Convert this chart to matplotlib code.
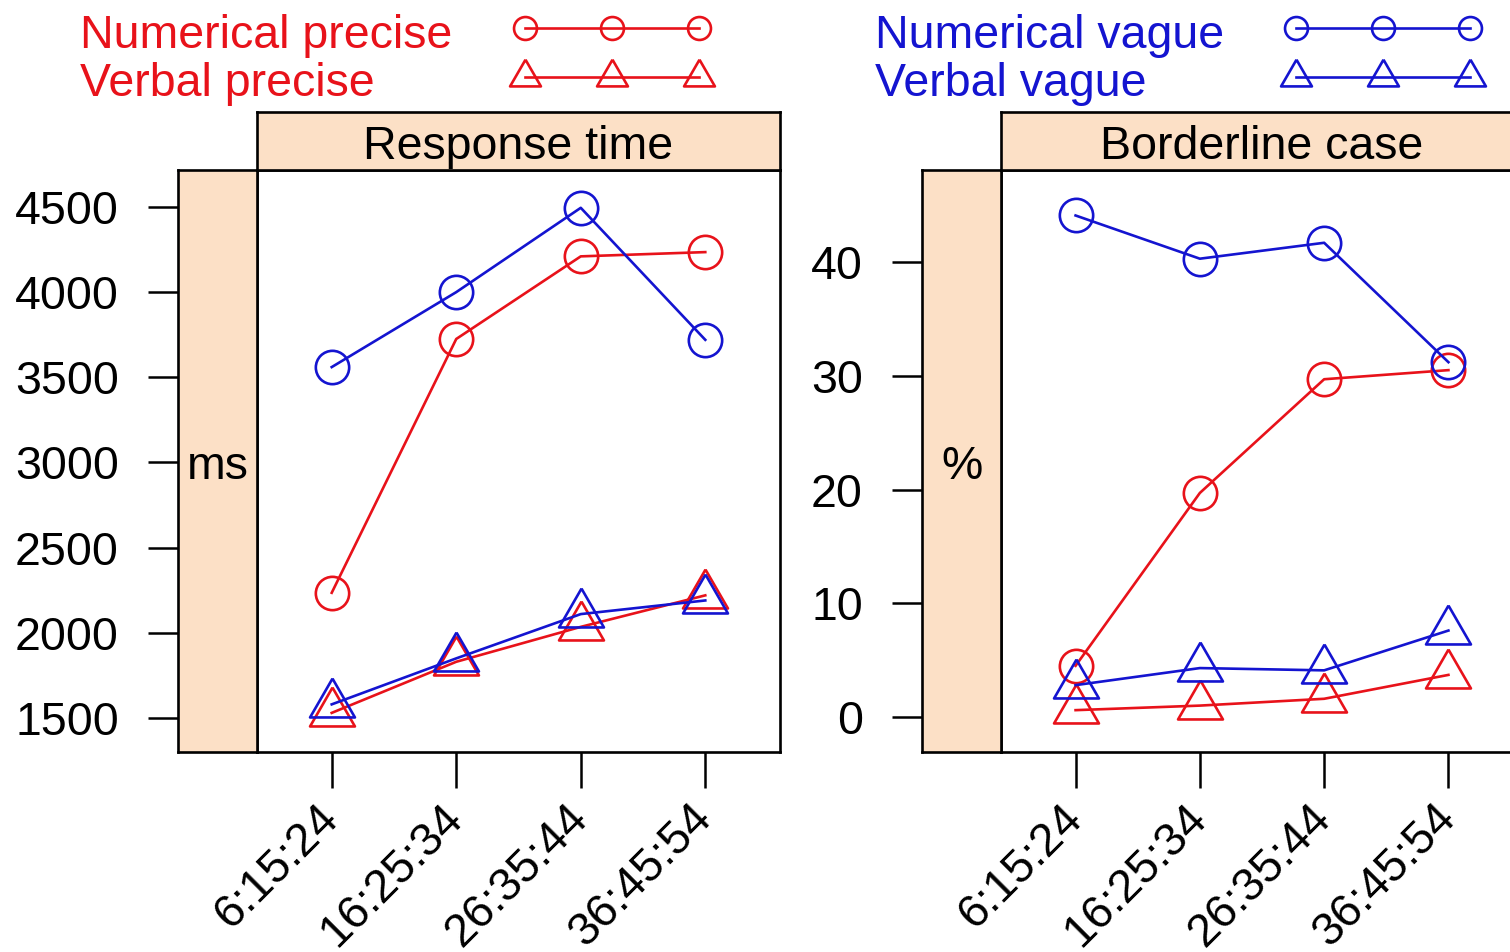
import matplotlib
matplotlib.use("Agg")
import matplotlib.pyplot as plt
import numpy as np

plt.rcParams['font.family'] = ['Liberation Sans', 'DejaVu Sans']

# ---------------- data ----------------
categories = ["6:15:24", "16:25:34", "26:35:44", "36:45:54"]
series_names = ["Numerical precise", "Verbal precise", "Numerical vague", "Verbal vague"]

rt_num_precise = [2235, 3725, 4210, 4235]
rt_verb_precise = [1530, 1830, 2035, 2220]
rt_num_vague = [3560, 4000, 4495, 3720]
rt_verb_vague = [1580, 1850, 2110, 2190]

bc_num_precise = [4.5, 19.7, 29.7, 30.5]
bc_verb_precise = [0.6, 1.0, 1.6, 3.7]
bc_num_vague = [44.1, 40.3, 41.7, 31.2]
bc_verb_vague = [2.8, 4.3, 4.1, 7.6]

panel_titles = ["Response time", "Borderline case"]
panel_ylabels = ["ms", "%"]
rt_ticks = [1500, 2000, 2500, 3000, 3500, 4000, 4500]
bc_ticks = [0, 10, 20, 30, 40]

# ---------------- style ----------------
W, H = 1510, 952
DPI = 100
RED = '#E8121A'
BLUE = '#1414D0'
STRIP = '#FCE0C6'
FS = 33.5
LW_FRAME = 1.9
LW = 1.9
MEW = 1.9

def box(x0, y0, x1, y1):
    return [x0 / W, 1 - y1 / H, (x1 - x0) / W, (y1 - y0) / H]

# R-like triangle marker (pch = 2), centred on the data point
TRI = [(0, 1.555), (1.347, -0.778), (-1.347, -0.778), (0, 1.555)]
CIRC_MS = 24.0
TRI_MS = CIRC_MS * 1.555

fig = plt.figure(figsize=(W / DPI, H / DPI), dpi=DPI)

panels = [
    dict(main=(257, 170, 780, 752), left=(178, 170, 257, 752), top=(257, 112, 780, 170),
         ylim=(1300.4, 4717), ticks=rt_ticks,
         data=[(rt_num_precise, RED, 'o'), (rt_verb_precise, RED, 't'),
               (rt_num_vague, BLUE, 'o'), (rt_verb_vague, BLUE, 't')]),
    dict(main=(1001, 170, 1523, 752), left=(922, 170, 1001, 752), top=(1001, 112, 1523, 170),
         ylim=(-3.08, 48.1), ticks=bc_ticks,
         data=[(bc_num_precise, RED, 'o'), (bc_verb_precise, RED, 't'),
               (bc_num_vague, BLUE, 'o'), (bc_verb_vague, BLUE, 't')]),
]

x = np.arange(1, len(categories) + 1)

for i, p in enumerate(panels):
    ax = fig.add_axes(box(*p['main']))
    ax.set_xlim(0.4, 4.6)
    ax.set_ylim(*p['ylim'])
    for vals, col, m in p['data']:
        mk, ms = ('o', CIRC_MS) if m == 'o' else (TRI, TRI_MS)
        ax.plot(x, vals, color=col, lw=LW, marker=mk, ms=ms,
                mfc='none', mec=col, mew=MEW, clip_on=False)
    ax.set_xticks(x)
    ax.set_xticklabels(categories, rotation=45, ha='right', va='center',
                       rotation_mode='anchor', fontsize=FS)
    ax.tick_params(axis='x', direction='out', length=26, width=1.8, pad=17)
    ax.set_yticks([])
    for s in ax.spines.values():
        s.set_linewidth(LW_FRAME)

    axl = fig.add_axes(box(*p['left']))
    axl.set_facecolor(STRIP)
    axl.set_ylim(*p['ylim'])
    axl.set_xlim(0, 1)
    axl.set_xticks([])
    axl.set_yticks(p['ticks'])
    axl.set_yticklabels([str(t) for t in p['ticks']], fontsize=FS)
    axl.tick_params(axis='y', direction='out', length=21.5, width=1.8, pad=21)
    axl.text(0.5, 0.49, panel_ylabels[i], transform=axl.transAxes, ha='center',
             va='center', fontsize=FS)
    for s in axl.spines.values():
        s.set_linewidth(LW_FRAME)

    axt = fig.add_axes(box(*p['top']))
    axt.set_facecolor(STRIP)
    axt.set_xticks([])
    axt.set_yticks([])
    axt.text(0.5, 0.40, panel_titles[i], transform=axt.transAxes,
             ha='center', va='center', fontsize=FS)
    for s in axt.spines.values():
        s.set_linewidth(LW_FRAME)

# ---------------- legend ----------------
lg = fig.add_axes([0, 0, 1, 1], zorder=-1)
lg.set_xlim(0, W)
lg.set_ylim(H, 0)
lg.axis('off')

legend_groups = [
    (80, [525, 612, 699], RED, [series_names[0], series_names[1]]),
    (875, [1296, 1383, 1470], BLUE, [series_names[2], series_names[3]]),
]
LEG_CIRC = 16.5
for tx, kx, col, names in legend_groups:
    lg.text(tx, 48, names[0], color=col, fontsize=FS, va='baseline', ha='left')
    lg.text(tx, 96, names[1], color=col, fontsize=FS, va='baseline', ha='left')
    lg.plot(kx, [28] * 3, color=col, lw=LW, marker='o', ms=LEG_CIRC,
            mfc='none', mec=col, mew=MEW)
    lg.plot(kx, [77] * 3, color=col, lw=LW, marker=TRI, ms=LEG_CIRC * 1.555,
            mfc='none', mec=col, mew=MEW)

fig.savefig("out.png", dpi=DPI)
